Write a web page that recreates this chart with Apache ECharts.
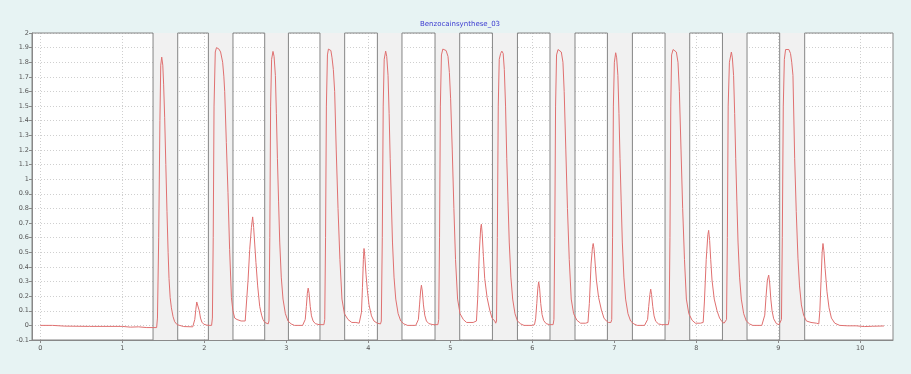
<!DOCTYPE html>
<html>
<head>
<meta charset="utf-8">
<script src="https://cdn.jsdelivr.net/npm/echarts@6/dist/echarts.min.js"></script>
<style>
html,body{margin:0;padding:0;background:#e7f3f3;}
#chart{width:911px;height:374px;}
</style>
</head>
<body>
<div id="chart"></div>
<script>
const titleText = 'Benzocainsynthese_03';
const xTickValues = [0,1,2,3,4,5,6,7,8,9,10];
const bandStarts = [1.376, 2.051, 2.738, 3.412, 4.112, 4.815, 5.515, 6.217, 6.917, 7.620, 8.320, 9.018];
const bandEnds   = [1.677, 2.351, 3.027, 3.713, 4.412, 5.116, 5.820, 6.522, 7.222, 7.921, 8.620, 9.323];

const leadIn = [[0,0],[0.15,0.0],[0.3,-0.005],[0.6,-0.007],[1.0,-0.007],[1.1,-0.012],[1.2,-0.01],[1.3,-0.015],[1.42,-0.015]];
const peak01 = [[1.43,0.05],[1.445,0.6],[1.46,1.4],[1.47,1.78],[1.482,1.835],[1.495,1.78],[1.505,1.65],[1.518,1.42],[1.532,1.1],[1.546,0.78],[1.56,0.5],[1.571,0.32],[1.585,0.19],[1.6,0.12],[1.62,0.06],[1.64,0.025],[1.67,0.005],[1.7,0.0],[1.75,-0.008],[1.86,-0.01]];
const peak02 = [[1.872,0.0],[1.885,0.04],[1.898,0.11],[1.909,0.16],[1.917,0.173],[1.926,0.158],[1.94,0.1],[1.955,0.05],[1.972,0.022],[1.995,0.008],[2.03,0.002],[2.06,0.0],[2.09,0.0]];
const peak03 = [[2.10,0.05],[2.11,0.6],[2.12,1.5],[2.135,1.87],[2.15,1.9],[2.165,1.9],[2.18,1.89],[2.2,1.87],[2.21,1.86],[2.225,1.8],[2.24,1.7],[2.25,1.6],[2.27,1.25],[2.29,0.91],[2.31,0.52],[2.332,0.19],[2.35,0.1],[2.372,0.05],[2.4,0.04],[2.45,0.03],[2.5,0.03]];
const peak04 = [[2.515,0.04],[2.535,0.31],[2.555,0.52],[2.576,0.67],[2.591,0.742],[2.603,0.67],[2.617,0.55],[2.631,0.43],[2.652,0.27],[2.677,0.13],[2.7,0.07],[2.717,0.04],[2.74,0.02],[2.76,0.015],[2.78,0.01]];
const peak05 = [[2.79,0.03],[2.8,0.6],[2.81,1.5],[2.822,1.82],[2.839,1.874],[2.852,1.84],[2.868,1.71],[2.88,1.45],[2.893,1.14],[2.907,0.85],[2.921,0.57],[2.94,0.33],[2.961,0.18],[2.99,0.08],[3.022,0.03],[3.06,0.01],[3.1,0.0],[3.2,0.0]];
const peak06 = [[3.218,0.005],[3.232,0.04],[3.246,0.13],[3.258,0.22],[3.268,0.255],[3.279,0.22],[3.293,0.13],[3.308,0.065],[3.328,0.03],[3.355,0.012],[3.4,0.005],[3.46,0.005]];
const peak07 = [[3.47,0.04],[3.48,0.6],[3.49,1.5],[3.503,1.85],[3.515,1.89],[3.53,1.89],[3.545,1.88],[3.559,1.83],[3.575,1.75],[3.591,1.6],[3.61,1.2],[3.632,0.8],[3.655,0.45],[3.68,0.18],[3.71,0.08],[3.754,0.04],[3.8,0.02],[3.85,0.02],[3.89,0.015]];
const peak08 = [[3.905,0.025],[3.918,0.09],[3.93,0.26],[3.941,0.45],[3.949,0.526],[3.959,0.47],[3.973,0.35],[3.99,0.24],[4.01,0.14],[4.04,0.065],[4.07,0.03],[4.11,0.015],[4.15,0.01]];
const peak09 = [[4.16,0.03],[4.172,0.6],[4.183,1.5],[4.195,1.82],[4.213,1.876],[4.226,1.84],[4.242,1.71],[4.255,1.45],[4.268,1.14],[4.282,0.85],[4.296,0.57],[4.315,0.33],[4.336,0.18],[4.365,0.08],[4.397,0.03],[4.435,0.01],[4.48,0.0],[4.58,0.0]];
const peak10 = [[4.598,0.005],[4.612,0.04],[4.626,0.14],[4.639,0.235],[4.649,0.275],[4.66,0.235],[4.674,0.14],[4.69,0.07],[4.71,0.03],[4.74,0.012],[4.79,0.005],[4.85,0.005]];
const peak11 = [[4.86,0.04],[4.87,0.6],[4.88,1.5],[4.893,1.85],[4.91,1.89],[4.93,1.89],[4.95,1.88],[4.973,1.84],[4.99,1.73],[5.005,1.55],[5.025,1.2],[5.045,0.8],[5.065,0.45],[5.09,0.18],[5.12,0.08],[5.16,0.04],[5.2,0.02],[5.28,0.02],[5.32,0.03]];
const peak12 = [[5.335,0.18],[5.355,0.5],[5.372,0.67],[5.38,0.692],[5.39,0.63],[5.405,0.47],[5.421,0.32],[5.45,0.19],[5.482,0.105],[5.51,0.05],[5.543,0.03],[5.555,0.015]];
const peak13 = [[5.565,0.03],[5.575,0.6],[5.586,1.5],[5.598,1.82],[5.615,1.86],[5.63,1.876],[5.646,1.86],[5.66,1.75],[5.675,1.5],[5.69,1.14],[5.705,0.85],[5.72,0.57],[5.74,0.33],[5.762,0.18],[5.79,0.08],[5.82,0.03],[5.86,0.01],[5.9,0.0],[6.0,0.0]];
const peak14 = [[6.028,0.005],[6.042,0.045],[6.056,0.15],[6.069,0.255],[6.079,0.298],[6.09,0.255],[6.104,0.15],[6.12,0.075],[6.14,0.033],[6.17,0.012],[6.21,0.005],[6.255,0.005]];
const peak15 = [[6.265,0.04],[6.275,0.6],[6.285,1.5],[6.297,1.85],[6.315,1.887],[6.335,1.887],[6.355,1.87],[6.375,1.8],[6.39,1.6],[6.41,1.2],[6.43,0.8],[6.452,0.45],[6.476,0.18],[6.505,0.08],[6.545,0.035],[6.59,0.015],[6.65,0.015],[6.68,0.02]];
const peak16 = [[6.697,0.15],[6.718,0.42],[6.736,0.54],[6.744,0.56],[6.755,0.52],[6.768,0.42],[6.783,0.31],[6.81,0.19],[6.844,0.105],[6.875,0.05],[6.905,0.03],[6.93,0.02],[6.96,0.02]];
const peak17 = [[6.97,0.04],[6.98,0.6],[6.99,1.5],[7.002,1.8],[7.018,1.865],[7.03,1.83],[7.045,1.71],[7.058,1.45],[7.071,1.14],[7.085,0.85],[7.099,0.57],[7.118,0.33],[7.139,0.18],[7.168,0.08],[7.2,0.03],[7.24,0.01],[7.28,0.0],[7.37,0.0]];
const peak18 = [[7.393,0.005],[7.407,0.04],[7.421,0.13],[7.435,0.21],[7.445,0.248],[7.456,0.21],[7.47,0.13],[7.486,0.065],[7.506,0.028],[7.54,0.01],[7.58,0.005],[7.66,0.005]];
const peak19 = [[7.67,0.04],[7.68,0.6],[7.69,1.5],[7.7,1.85],[7.718,1.887],[7.738,1.887],[7.758,1.87],[7.778,1.8],[7.795,1.6],[7.815,1.2],[7.835,0.8],[7.857,0.45],[7.88,0.18],[7.91,0.08],[7.95,0.035],[7.99,0.015],[8.05,0.015],[8.085,0.02]];
const peak20 = [[8.1,0.16],[8.122,0.45],[8.142,0.62],[8.152,0.65],[8.164,0.58],[8.177,0.45],[8.193,0.31],[8.22,0.18],[8.254,0.1],[8.285,0.05],[8.315,0.025],[8.34,0.015],[8.36,0.015]];
const peak21 = [[8.37,0.04],[8.38,0.6],[8.39,1.5],[8.405,1.8],[8.429,1.87],[8.441,1.83],[8.456,1.71],[8.469,1.45],[8.482,1.14],[8.496,0.85],[8.51,0.57],[8.529,0.33],[8.55,0.18],[8.579,0.08],[8.611,0.03],[8.65,0.01],[8.69,0.0],[8.8,0.0]];
const peak22 = [[8.82,0.01],[8.836,0.07],[8.852,0.2],[8.868,0.31],[8.884,0.344],[8.896,0.29],[8.91,0.18],[8.925,0.1],[8.945,0.045],[8.978,0.012],[9.01,0.005],[9.03,0.005]];
const peak23 = [[9.04,0.04],[9.05,0.6],[9.062,1.5],[9.075,1.82],[9.09,1.887],[9.11,1.887],[9.13,1.887],[9.15,1.86],[9.165,1.8],[9.18,1.71],[9.201,1.14],[9.22,0.78],[9.241,0.46],[9.26,0.27],[9.283,0.14],[9.31,0.07],[9.344,0.03],[9.4,0.02],[9.466,0.015]];
const peak24 = [[9.495,0.01],[9.508,0.1],[9.522,0.3],[9.536,0.5],[9.546,0.56],[9.557,0.51],[9.572,0.39],[9.595,0.23],[9.62,0.12],[9.649,0.05],[9.69,0.015],[9.75,0.0]];
const tailOut = [[9.85,-0.003],[9.95,-0.003],[10.05,-0.008],[10.15,-0.006],[10.29,-0.004]];

const signal = [].concat(leadIn, peak01, peak02, peak03, peak04, peak05, peak06, peak07, peak08, peak09, peak10, peak11, peak12, peak13, peak14, peak15, peak16, peak17, peak18, peak19, peak20, peak21, peak22, peak23, peak24, tailOut);

const X_MIN = -0.1, X_MAX = 10.4;
const grayAreas = bandStarts.map((s, i) => [{xAxis: s}, {xAxis: bandEnds[i]}]);
const boxStarts = [X_MIN].concat(bandEnds);
const boxStops = bandStarts.concat([X_MAX]);
const whiteBoxes = boxStarts.map((s, i) => [{xAxis: s, yAxis: -0.1}, {xAxis: boxStops[i], yAxis: 2}]);

const chart = echarts.init(document.getElementById('chart'));
chart.setOption({
  backgroundColor: '#e7f3f3',
  animation: false,
  title: {
    text: titleText, left: 455, top: 16, textAlign: 'center',
    textStyle: {fontSize: 7, color: '#3a3ad0', fontWeight: 'normal', fontFamily: 'DejaVu Sans'}
  },
  grid: {left: 32, top: 33, width: 861, height: 307, backgroundColor: '#ffffff', show: true, borderWidth: 0},
  xAxis: {
    type: 'value', min: X_MIN, max: X_MAX,
    axisLine: {show: true, onZero: false, lineStyle: {color: '#8a8a8a', width: 1}},
    axisTick: {show: true, length: 3, customValues: xTickValues, lineStyle: {color: '#8a8a8a'}},
    axisLabel: {customValues: xTickValues, fontSize: 6.5, color: '#555', margin: 5, fontFamily: 'DejaVu Sans'},
    splitLine: {show: true, lineStyle: {color: '#cfcfcf', type: [1, 2], width: 1}}
  },
  yAxis: {
    type: 'value', min: -0.1, max: 2, interval: 0.1,
    axisLine: {show: true, onZero: false, lineStyle: {color: '#8a8a8a', width: 1}},
    axisTick: {show: true, length: 3, lineStyle: {color: '#8a8a8a'}},
    axisLabel: {fontSize: 6.5, color: '#555', margin: 3, fontFamily: 'DejaVu Sans'},
    splitLine: {show: true, lineStyle: {color: '#cfcfcf', type: [1, 2], width: 1}}
  },
  series: [
    {
      type: 'line', data: [], z: 1, silent: true,
      markArea: {silent: true, itemStyle: {color: '#f1f1f1'}, data: grayAreas}
    },
    {
      type: 'line', data: [], z: 2, silent: true,
      markArea: {silent: true, itemStyle: {color: 'rgba(0,0,0,0)', borderColor: '#858585', borderWidth: 1}, data: whiteBoxes}
    },
    {
      type: 'line', data: signal, z: 5, showSymbol: false, smooth: false,
      lineStyle: {color: '#e07070', width: 1}
    }
  ]
});
</script>
</body>
</html>
